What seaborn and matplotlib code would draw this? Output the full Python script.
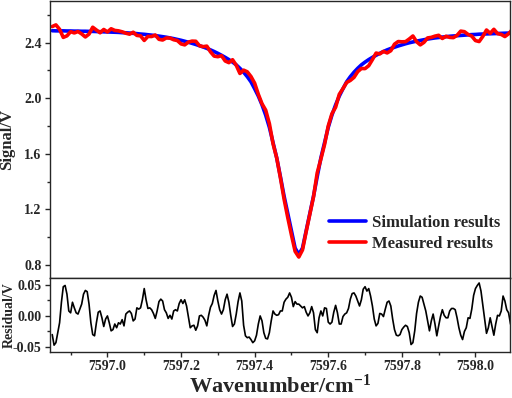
import numpy as np
import pandas as pd
import matplotlib
matplotlib.use('Agg')
import matplotlib.pyplot as plt
import seaborn as sns
from matplotlib.ticker import MultipleLocator, FormatStrFormatter

# simulated absorption profile, sampled every 0.01 cm-1 from 7596.85 to 7598.10
wn_sim = np.linspace(7596.85, 7598.10, 126)
signal_sim = [
	2.486, 2.485, 2.485, 2.485, 2.484, 2.484, 2.483, 2.483, 2.482, 2.482,
	2.481, 2.481, 2.480, 2.479, 2.478, 2.477, 2.476, 2.475, 2.474, 2.472,
	2.471, 2.469, 2.467, 2.465, 2.462, 2.460, 2.457, 2.454, 2.451, 2.447,
	2.443, 2.439, 2.434, 2.429, 2.423, 2.417, 2.410, 2.403, 2.395, 2.387,
	2.378, 2.369, 2.359, 2.348, 2.336, 2.323, 2.309, 2.294, 2.278, 2.260,
	2.240, 2.215, 2.187, 2.155, 2.118, 2.068, 2.015, 1.952, 1.878, 1.790,
	1.680, 1.570, 1.435, 1.295, 1.170, 1.045, 0.920, 0.875, 0.920, 1.045,
	1.170, 1.295, 1.435, 1.570, 1.680, 1.790, 1.878, 1.952, 2.015, 2.068,
	2.118, 2.155, 2.187, 2.215, 2.240, 2.260, 2.278, 2.294, 2.309, 2.323,
	2.336, 2.348, 2.358, 2.367, 2.376, 2.384, 2.392, 2.399, 2.405, 2.411,
	2.416, 2.421, 2.426, 2.430, 2.434, 2.437, 2.440, 2.443, 2.446, 2.448,
	2.450, 2.452, 2.454, 2.456, 2.458, 2.459, 2.461, 2.462, 2.463, 2.464,
	2.465, 2.466, 2.467, 2.468, 2.469, 2.470,
]

# residual (simulation - measurement), sampled every 0.005 cm-1
wn_res = np.linspace(7596.85, 7598.10, 251)
residual = [
	-0.030, -0.047, -0.043, -0.027, -0.011, 0.022, 0.047, 0.049, 0.035, 0.008,
	0.005, 0.022, 0.013, 0.005, 0.003, 0.011, 0.019, 0.035, 0.041, 0.039,
	0.019, -0.011, -0.030, -0.032, -0.011, 0.006, 0.008, -0.003, -0.017, -0.005,
	0.000, -0.011, -0.024, -0.022, -0.013, -0.019, -0.011, -0.013, -0.006, -0.016,
	0.003, 0.006, 0.008, 0.004, -0.008, -0.005, 0.013, 0.011, 0.013, 0.026,
	0.044, 0.026, 0.012, 0.013, 0.010, 0.004, -0.004, 0.008, 0.023, 0.027,
	0.024, 0.010, 0.005, -0.004, 0.001, -0.005, 0.008, 0.010, 0.008, 0.020,
	0.026, 0.020, 0.026, 0.016, -0.001, -0.019, -0.016, -0.015, -0.023, -0.016,
	0.000, 0.001, -0.002, -0.007, -0.016, 0.001, 0.014, 0.020, 0.033, 0.041,
	0.024, 0.010, 0.003, 0.010, 0.026, 0.035, 0.022, 0.001, -0.017, -0.013,
	0.003, 0.023, 0.037, 0.024, -0.015, -0.032, -0.035, -0.034, -0.038, -0.043,
	-0.040, -0.031, -0.013, 0.000, -0.008, -0.027, -0.036, -0.037, -0.027, -0.008,
	0.008, 0.003, 0.001, 0.002, 0.008, 0.008, 0.022, 0.027, 0.030, 0.037,
	0.030, 0.015, 0.023, 0.019, 0.019, 0.016, 0.013, 0.015, 0.006, 0.000,
	0.005, 0.015, 0.005, -0.022, -0.027, -0.003, 0.008, 0.000, 0.013, 0.012,
	-0.010, -0.013, -0.010, 0.006, 0.017, 0.005, -0.013, -0.013, -0.001, 0.003,
	0.005, 0.012, 0.027, 0.036, 0.037, 0.032, 0.024, 0.016, 0.026, 0.043,
	0.047, 0.040, 0.044, 0.032, 0.016, -0.005, -0.016, -0.012, 0.004, 0.003,
	-0.001, 0.011, 0.022, 0.024, 0.016, -0.005, -0.022, -0.031, -0.032, -0.030,
	-0.022, -0.018, -0.015, -0.017, -0.027, -0.046, -0.043, -0.024, 0.004, 0.022,
	0.032, 0.030, 0.019, 0.008, -0.008, -0.024, -0.008, 0.003, -0.013, -0.032,
	-0.016, -0.001, 0.010, 0.001, -0.003, -0.003, 0.008, 0.012, 0.012, 0.010,
	-0.003, -0.019, -0.031, -0.038, -0.025, -0.019, -0.003, -0.004, 0.011, 0.033,
	0.044, 0.049, 0.053, 0.040, 0.017, -0.005, -0.028, -0.019, -0.003, -0.017,
	-0.031, -0.013, 0.001, 0.000, 0.008, 0.032, 0.024, 0.010, 0.005, -0.012,
	-0.024,
]

df_main = pd.DataFrame({"wn": wn_sim, "sim": signal_sim})
# measured = simulation - residual at the shared sample points
df_main["meas"] = df_main["sim"] - np.array(residual)[::2]
df_res = pd.DataFrame({"wn": wn_res, "res": residual})

sns.set_style("ticks")
plt.rcParams['font.family'] = ['Liberation Serif', 'DejaVu Serif']
plt.rcParams['font.weight'] = 'bold'
plt.rcParams['axes.labelweight'] = 'bold'
plt.rcParams['mathtext.fontset'] = 'custom'
plt.rcParams['mathtext.rm'] = 'Liberation Serif:bold'
plt.rcParams['mathtext.bf'] = 'Liberation Serif:bold'
plt.rcParams['mathtext.default'] = 'bf'
plt.rcParams['axes.linewidth'] = 1.0

fig = plt.figure(figsize=(5.12, 3.98), dpi=100)
ax1 = fig.add_axes([0.0977, 0.3015, 0.8985, 0.696])
ax2 = fig.add_axes([0.0977, 0.1156, 0.8985, 0.1859], sharex=ax1)

sns.lineplot(data=df_main, x="wn", y="sim", ax=ax1, color="#0000ff", lw=2.6, label="Simulation results")
sns.lineplot(data=df_main, x="wn", y="meas", ax=ax1, color="#ff0000", lw=2.6, label="Measured results")
sns.lineplot(data=df_res, x="wn", y="res", ax=ax2, color="black", lw=1.2)

ax1.set_xlim(7596.844, 7598.094)
ax1.set_ylim(0.705, 2.70)
ax2.set_ylim(-0.058, 0.061)

ax1.yaxis.set_major_locator(MultipleLocator(0.4))
ax1.yaxis.set_minor_locator(MultipleLocator(0.2))
ax1.yaxis.set_major_formatter(FormatStrFormatter('%.1f'))
ax2.yaxis.set_major_locator(MultipleLocator(0.05))
ax2.yaxis.set_minor_locator(MultipleLocator(0.025))
ax2.yaxis.set_major_formatter(FormatStrFormatter('%.2f'))
ax2.xaxis.set_major_locator(MultipleLocator(0.2))
ax2.xaxis.set_minor_locator(MultipleLocator(0.1))
ax2.xaxis.set_major_formatter(FormatStrFormatter('%.1f'))

for ax in (ax1, ax2):
	ax.tick_params(axis='both', which='major', direction='out', length=3.5, width=1, labelsize=10, pad=2.5)
	ax.tick_params(axis='both', which='minor', direction='out', length=2, width=1)
ax1.tick_params(axis='x', which='both', bottom=False, labelbottom=False)

ax1.set_xlabel("")
ax1.set_ylabel("Signal/V", fontsize=12)
ax2.set_ylabel("Residual/V", fontsize=10)
ax2.set_xlabel("Wavenumber/cm$^{-1}$", fontsize=16, labelpad=1)
ax1.yaxis.set_label_coords(-0.075, 0.5)
ax2.yaxis.set_label_coords(-0.075, 0.5)

ax1.legend(loc="lower right", bbox_to_anchor=(1.012, 0.04), frameon=False,
	handlelength=2.2, handletextpad=0.4, labelspacing=0.3,
	prop={'family': 'Liberation Serif', 'weight': 'bold', 'size': 12})

fig.savefig("out.png", dpi=100)
